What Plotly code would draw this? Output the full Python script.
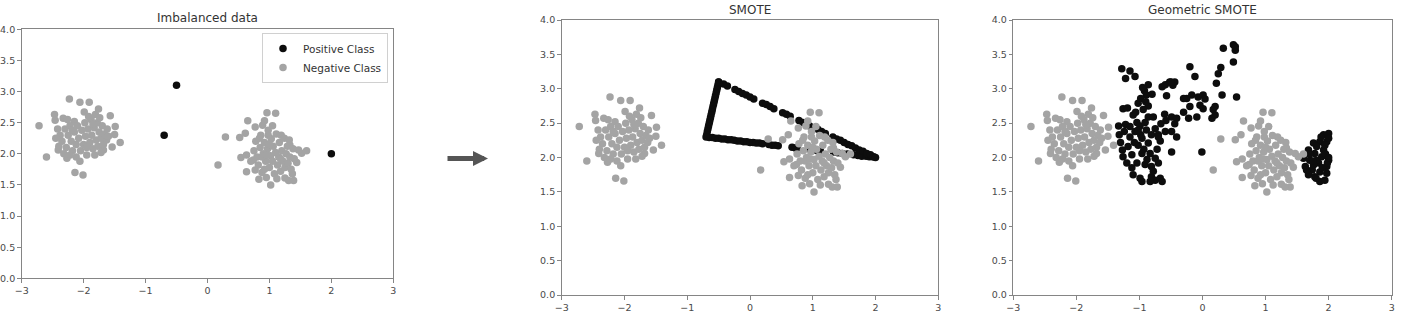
import plotly.graph_objects as go

# ---------------- data ----------------
# original positive (minority) samples
pos_x = [-0.50, -0.70, 2.00]
pos_y = [3.10, 2.30, 2.00]

# negative (majority) samples - two clusters
neg_x = [
    -2.72, -2.60, -2.47, -2.23, -2.06, -1.91, -1.76, -1.81, -1.99, -1.57, -1.49, -1.50, -1.41, -1.54,
    -1.68, -2.14, -2.01, -2.27, -2.41, -2.46, -2.33, -2.15,
    -2.42, -2.38, -2.35, -2.40, -2.30, -2.28, -2.25, -2.22, -2.20, -2.18, -2.15, -2.12, -2.10, -2.08,
    -2.05, -2.03, -2.00, -1.98, -1.97, -1.95, -1.93, -1.90, -1.88, -1.87, -1.85, -1.83, -1.80, -1.78,
    -1.77, -1.75, -1.72, -1.70, -1.68, -1.66, -1.63, -1.62, -1.60, -1.72, -1.82, -2.12, -2.22, -2.32,
    -2.45, -2.26, -1.92, -1.74, -2.06, -2.18, -1.95, -1.85,
    0.17, 0.29, 0.52, 0.61, 0.65, 0.77, 0.89, 0.92, 0.96, 1.10, 0.54, 0.63, 0.63, 0.83, 1.02, 1.25,
    1.37, 1.39, 1.31, 1.44, 1.52, 1.60, 1.47, 1.33, 1.19, 0.98, 0.77, 0.74,
    0.75, 0.78, 0.80, 0.82, 0.85, 0.86, 0.88, 0.90, 0.92, 0.94, 0.95, 0.97, 0.98, 1.00, 1.02, 1.03,
    1.05, 1.06, 1.08, 1.10, 1.11, 1.13, 1.15, 1.16, 1.18, 1.20, 1.22, 1.24, 1.25, 1.27, 1.29, 1.30,
    1.33, 1.35, 1.38, 1.40, 0.92, 1.00, 0.88, 1.12, 1.32, 1.05, 0.70, 0.96, 1.18, 0.84,
]
neg_y = [
    2.45, 1.95, 2.63, 2.88, 2.83, 2.83, 2.72, 2.63, 2.67, 2.61, 2.44, 2.31, 2.18, 2.11,
    2.06, 1.70, 1.66, 1.93, 2.06, 2.54, 2.57, 2.52,
    2.40, 2.30, 2.20, 2.12, 2.40, 2.10, 2.30, 2.45, 2.20, 2.05, 2.35, 2.15, 2.45, 2.25,
    2.05, 2.38, 2.15, 2.50, 2.28, 1.98, 2.40, 2.18, 2.55, 2.30, 2.08, 2.42, 2.22, 2.50,
    2.12, 2.35, 2.25, 2.45, 2.15, 2.32, 2.22, 2.40, 2.28, 2.02, 1.98, 1.95, 1.98, 2.00,
    2.25, 2.55, 2.60, 2.58, 1.88, 2.38, 2.10, 2.48,
    1.82, 2.27, 2.26, 2.33, 2.53, 2.43, 2.46, 2.53, 2.66, 2.65, 1.94, 1.98, 1.71, 1.59, 1.50, 1.61,
    1.68, 1.57, 1.57, 1.86, 2.01, 2.05, 2.06, 2.14, 2.30, 2.30, 1.74, 1.90,
    2.05, 2.20, 1.95, 1.82, 2.10, 2.30, 1.70, 2.00, 2.18, 1.88, 1.62, 2.08, 2.38, 1.78, 1.97, 2.24,
    1.88, 2.12, 1.68, 2.02, 2.32, 1.82, 1.95, 2.18, 1.72, 2.05, 1.88, 2.25, 1.78, 2.00, 2.12, 1.85,
    1.95, 1.75, 2.08, 1.92, 1.75, 2.15, 1.95, 1.60, 2.22, 2.45, 1.88, 1.98, 1.92, 2.25,
]

# SMOTE generated minority samples (along the segments between positives)
smote_x = [
    -0.50, -0.51, -0.52, -0.53, -0.54, -0.55, -0.56, -0.57, -0.58, -0.59, -0.60, -0.61, -0.62, -0.63,
    -0.64, -0.65, -0.66, -0.67, -0.68, -0.69,
    -0.65, -0.60, -0.55, -0.50, -0.45, -0.40, -0.35, -0.30, -0.25, -0.20, -0.15, -0.10, -0.05, 0.00,
    0.05, 0.10, 0.15, 0.20, 0.30, 0.35, 0.40, 0.45,
    0.67, 0.72, 0.75, 0.96, 1.02, 1.08, 1.12, 1.33, 1.40, 1.47, 1.55, 1.65, 1.72, 1.78, 1.85, 1.90, 1.95,
    -0.42, -0.36, -0.24, -0.18, -0.12, -0.06, 0.00, 0.06, 0.20, 0.26, 0.32, 0.38, 0.52, 0.58, 0.64,
    0.78, 0.84, 0.90, 0.95, 1.08, 1.14, 1.20, 1.32, 1.38, 1.44, 1.50, 1.56, 1.62, 1.68, 1.74, 1.80,
    1.86, 1.92, 1.97,
]
smote_y = [
    3.10, 3.06, 3.02, 2.98, 2.94, 2.90, 2.86, 2.82, 2.78, 2.74, 2.70, 2.66, 2.62, 2.58,
    2.54, 2.50, 2.46, 2.42, 2.38, 2.33,
    2.29, 2.29, 2.28, 2.28, 2.27, 2.27, 2.26, 2.26, 2.25, 2.24, 2.24, 2.23, 2.23, 2.22,
    2.22, 2.21, 2.21, 2.20, 2.19, 2.18, 2.18, 2.17,
    2.15, 2.14, 2.14, 2.12, 2.11, 2.10, 2.10, 2.08, 2.07, 2.06, 2.05, 2.04, 2.03, 2.02, 2.02, 2.01, 2.01,
    3.07, 3.04, 2.99, 2.96, 2.93, 2.91, 2.88, 2.85, 2.79, 2.77, 2.74, 2.71, 2.65, 2.63, 2.60,
    2.54, 2.51, 2.48, 2.46, 2.41, 2.38, 2.35, 2.30, 2.27, 2.25, 2.22, 2.19, 2.17, 2.14, 2.11, 2.09,
    2.06, 2.04, 2.01,
]

# Geometric SMOTE generated minority samples
gsmote_x = [
    -1.28, -1.15, -1.07, -1.22, -0.86, -0.92, -0.89, -0.98, -1.02, -0.86, -1.26, -1.19, -1.10, -1.06,
    -0.86, -0.78, -1.33, -1.22, -1.04, -0.99, -0.91, -1.32, -1.24, -1.15, -1.07, -0.98, -0.89, -0.81,
    -0.75, -0.66, -0.60, -0.64, -0.59, -0.52, -0.44, -0.47, -0.57, -0.58, -0.49, -0.41, -0.44, -0.59,
    -0.49, -0.41, -0.70, -0.67, -0.86, -1.02, -1.18, -1.27, -1.26, -1.12, -0.96, -0.83, -0.75, -1.20,
    -1.04, -0.91, -0.81, -0.70, -1.10, -0.99, -0.96, -0.81, -0.75, -0.67, -0.64, -0.83, -0.49,
    -0.20, -0.12, -0.25, -0.30, -0.17, -0.07, 0.01, 0.04, -0.20, -0.04, 0.01, -0.22, -0.09, 0.17,
    0.20, 0.15, -0.01, 0.22, 0.25, 0.29, 0.31, 0.33, 0.49, 0.52, 0.49, 0.54, 0.52, -0.30, 0.20,
    -1.15, -1.08, -0.93, -0.88, -1.12, -0.96, -0.72, -1.30, -0.78, -1.02, -0.94, -0.80, -0.95, -0.90,
    2.00, 1.92, 1.86, 1.97, 1.76, 1.68, 1.78, 1.92, 2.00, 1.60, 1.70, 1.84, 1.63, 1.74, 1.86, 1.97,
    1.68, 1.78, 1.86, 1.94, 1.81, 1.89, 1.97, 1.76, 1.81, 1.94, 2.00,
    1.70, 1.90, 1.80, 1.95, 1.65, 1.88, 1.75, 1.98,
]
gsmote_y = [
    3.29, 3.26, 3.18, 3.15, 3.06, 2.97, 2.91, 2.86, 2.79, 2.75, 2.71, 2.72, 2.62, 2.66,
    2.59, 2.59, 2.46, 2.48, 2.51, 2.46, 2.51, 2.33, 2.38, 2.30, 2.38, 2.33, 2.40, 2.33,
    2.42, 2.49, 2.63, 3.03, 3.06, 3.10, 3.10, 3.05, 2.90, 2.54, 2.59, 2.57, 2.49, 2.38,
    2.38, 2.30, 2.33, 2.24, 2.21, 2.18, 2.16, 2.11, 2.01, 2.04, 2.06, 2.06, 1.99, 1.92,
    1.92, 1.90, 1.87, 1.92, 1.75, 1.70, 1.65, 1.72, 1.67, 1.70, 1.65, 1.65, 2.08,
    3.32, 3.18, 2.86, 2.86, 2.91, 2.88, 2.91, 2.85, 2.74, 2.76, 2.71, 2.57, 2.59, 2.70,
    2.74, 2.57, 2.08, 3.08, 3.22, 3.31, 2.91, 3.59, 3.64, 3.56, 3.39, 2.88, 3.61, 2.66, 2.62,
    2.45, 2.22, 2.12, 1.97, 1.85, 2.28, 2.12, 2.22, 1.80, 2.40, 2.70, 2.92, 3.02, 2.81,
    2.35, 2.33, 2.23, 2.23, 2.21, 2.11, 2.06, 2.11, 1.96, 1.99, 1.96, 1.92, 1.87, 1.82, 1.79, 1.77,
    1.75, 1.72, 1.65, 1.67, 1.96, 2.01, 1.87, 1.89, 2.16, 2.18, 2.28,
    2.05, 1.85, 1.70, 2.05, 1.82, 2.30, 1.95, 1.92,
]

titles = ["Imbalanced data", "SMOTE", "Geometric SMOTE"]
legend_names = ["Positive Class", "Negative Class"]
x_ticks = [-3, -2, -1, 0, 1, 2, 3]
y_ticks = [0.0, 0.5, 1.0, 1.5, 2.0, 2.5, 3.0, 3.5, 4.0]

# ---------------- styling ----------------
W, H = 1404, 326
BLACK = "#0d0d0d"
GREY = "#a4a4a4"
FRAME = "#858585"
MS = 7.5
FONT = "DejaVu Sans"

# pixel boxes of the three panels (left, top, right, bottom)
boxes = [(21.7, 29.3, 393.3, 278.3), (561.7, 20.0, 938.3, 295.0), (1013.3, 20.0, 1391.7, 295.0)]
title_y = [18, 10, 10]

fig = go.Figure()

pos_sets = [(pos_x, pos_y), (smote_x + pos_x, smote_y + pos_y), (gsmote_x + pos_x, gsmote_y + pos_y)]

for i in range(3):
    xa = "x" if i == 0 else f"x{i+1}"
    ya = "y" if i == 0 else f"y{i+1}"
    px, py = pos_sets[i]
    fig.add_trace(go.Scatter(x=px, y=py, mode="markers", xaxis=xa, yaxis=ya,
                             marker=dict(color=BLACK, size=MS),
                             name=legend_names[0], showlegend=(i == 0)))
    fig.add_trace(go.Scatter(x=neg_x, y=neg_y, mode="markers", xaxis=xa, yaxis=ya,
                             marker=dict(color=GREY, size=MS),
                             name=legend_names[1], showlegend=(i == 0)))

axis_common = dict(showline=True, mirror=True, linecolor=FRAME, linewidth=1.2,
                   ticks="outside", ticklen=3.5, tickwidth=1, tickcolor=FRAME,
                   showgrid=False, zeroline=False, automargin=False,
                   tickfont=dict(family=FONT, size=9.5, color="#4a4a4a"))

layout_axes = {}
annotations = []
for i, (l, t, r, b) in enumerate(boxes):
    xk = "xaxis" if i == 0 else f"xaxis{i+1}"
    yk = "yaxis" if i == 0 else f"yaxis{i+1}"
    ya = "y" if i == 0 else f"y{i+1}"
    xa = "x" if i == 0 else f"x{i+1}"
    layout_axes[xk] = dict(axis_common, domain=[l / W, r / W], range=[-3, 3],
                           tickvals=x_ticks, tickformat="d", anchor=ya)
    layout_axes[yk] = dict(axis_common, domain=[1 - b / H, 1 - t / H], range=[0, 4],
                           tickvals=y_ticks, tickformat=".1f", anchor=xa)
    annotations.append(dict(text=titles[i], xref="paper", yref="paper",
                            x=(l + r) / 2 / W, y=1 - title_y[i] / H,
                            xanchor="center", yanchor="middle", showarrow=False,
                            font=dict(family=FONT, size=12, color="#333333")))

# arrow between panels
annotations.append(dict(text="", xref="paper", yref="paper", x=488 / W, y=1 - 158.5 / H,
                        ax=-42, ay=0, showarrow=True, arrowhead=2, arrowsize=0.6,
                        arrowwidth=5, arrowcolor="#555555"))

fig.update_layout(
    width=W, height=H, margin=dict(l=0, r=0, t=0, b=0),
    paper_bgcolor="white", plot_bgcolor="white",
    showlegend=True,
    legend=dict(x=388 / W, y=1 - 33 / H, xanchor="right", yanchor="top",
                bgcolor="white", bordercolor="#d0d0d0", borderwidth=1,
                font=dict(family=FONT, size=10.5, color="#333333"),
                itemwidth=30, tracegroupgap=0),
    annotations=annotations,
    **layout_axes,
)

fig.write_html("out.html")
